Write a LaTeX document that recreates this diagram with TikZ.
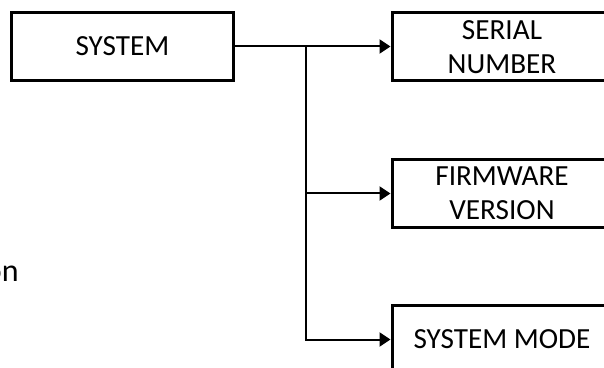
\documentclass[tikz,border=0pt]{standalone}
\usepackage{fontspec}
\setmainfont{Carlito}
\usetikzlibrary{arrows.meta}

\begin{document}
\begin{tikzpicture}[x=0.5pt, y=-0.5pt,
    block/.style={draw, line width=1.5pt, minimum width=110pt, minimum height=34pt,
        inner sep=0pt, align=center, font=\fontsize{14.6}{17}\selectfont},
    link/.style={line width=1pt, -{Triangle[length=5.5pt, width=7pt]}}]

    \useasboundingbox (0,0) rectangle (604,368);
    \clip (0,0) rectangle (604,368);

    \node[block, minimum width=111pt] (sys) at (122.5, 46.5) {SYSTEM};
    \node[block] (serial) at (502, 46.75) {SERIAL\\NUMBER};
    \node[block] (firm) at (502, 193.5) {FIRMWARE\\VERSION};
    \node[block] (mode) at (502, 339.5) {SYSTEM MODE};

    \node[anchor=base east, inner sep=0pt, font=\fontsize{16}{19}\selectfont] (on) at (19, 282) {on};

    \coordinate (br) at (306, 46.5);

    \draw[link] (sys.east) -- (sys.east -| serial.west);
    \draw[link] (br) |- (firm.west);
    \draw[link] (br) |- (mode.west);

\end{tikzpicture}
\end{document}
